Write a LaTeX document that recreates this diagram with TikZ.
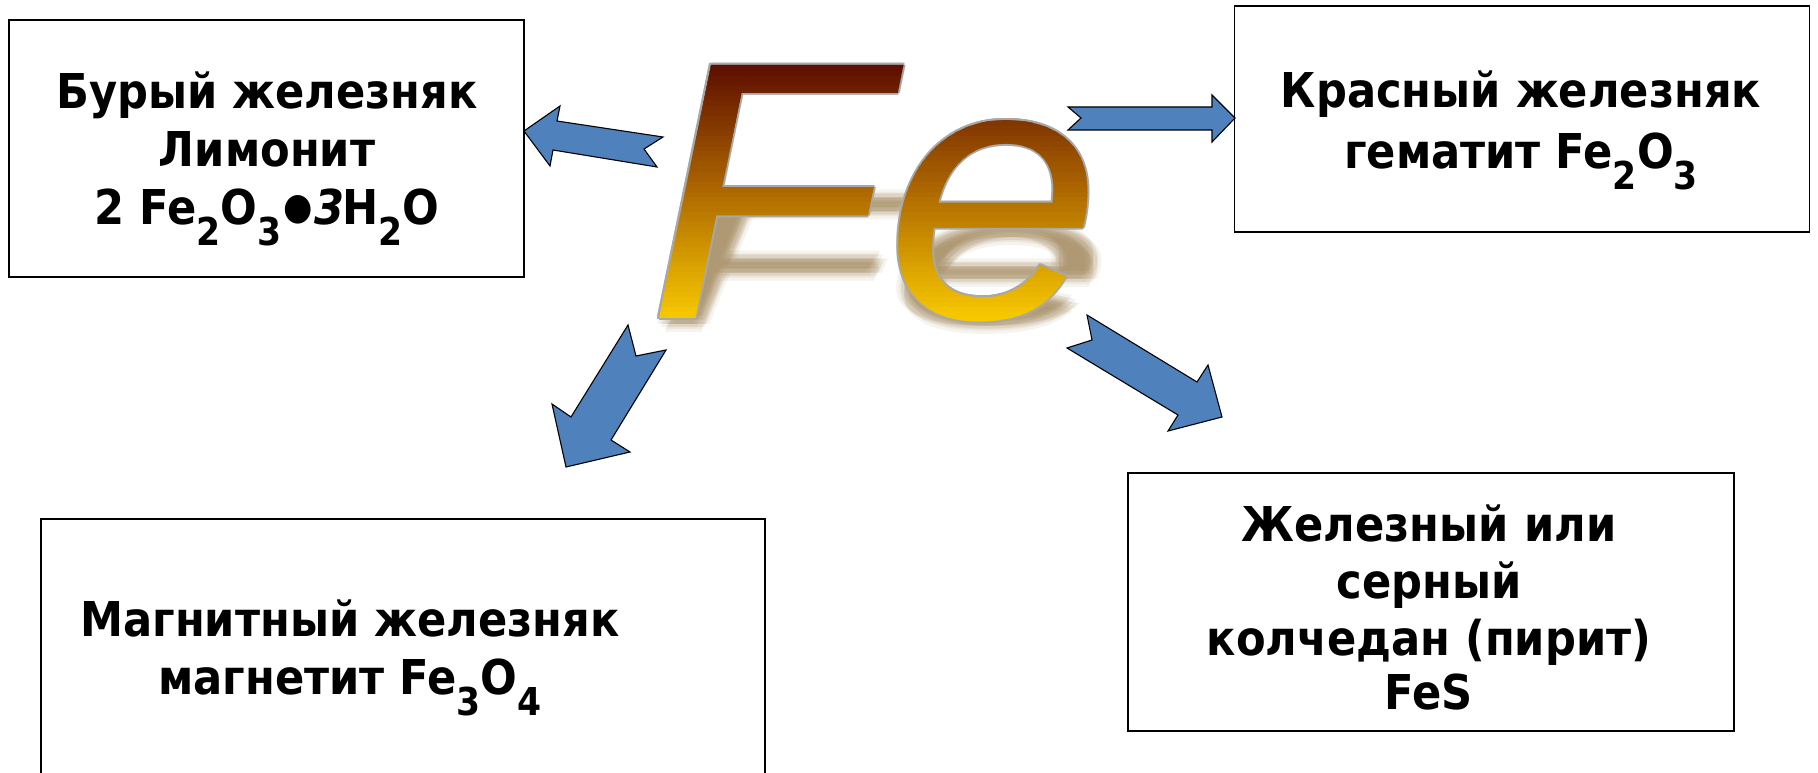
\documentclass[tikz,border=0pt]{standalone}
\usepackage{fontspec}
\usepackage{graphicx}
\setmainfont{DejaVu Sans}[FakeStretch=0.9]
\newfontfamily\fefont{Liberation Sans}
\definecolor{arrowblue}{RGB}{79,129,189}
\definecolor{feTop}{RGB}{88,8,0}
\definecolor{feMid}{RGB}{172,102,0}
\definecolor{feBot}{RGB}{247,200,0}
\definecolor{feShadow}{RGB}{140,105,50}
\definecolor{feEdge}{RGB}{168,168,168}
\newcommand{\fetxt}{\scalebox{1.06}[1]{\fontsize{368}{368}\selectfont\fefont\itshape Fe}}
\newcommand{\sbs}[1]{\raisebox{-0.45em}{\scalebox{0.8}{#1}}}
\tikzset{
  box/.style={draw=black, line width=1.8pt, inner sep=0pt, fill=none},
  lbl/.style={inner sep=0pt, anchor=base, font=\fontsize{#1}{#1}\selectfont\bfseries},
  fenode/.style={inner sep=0pt, anchor=base west},
  blockarrow/.style={fill=arrowblue, draw=black, line width=1.1pt, line join=miter}
}
\begin{document}
\begin{tikzpicture}[x=1pt,y=-1pt]
\path[use as bounding box, fill=white] (0,0) rectangle (1818,773);

% boxes
\node[box, minimum width=515pt, minimum height=257pt] (b1) at (266.5,148.5) {};
\node[box, minimum width=575pt, minimum height=226pt] (b2) at (1522,119) {};
\node[box, minimum width=724pt, minimum height=300pt] (b3) at (403,669) {};
\node[box, minimum width=606pt, minimum height=258pt] (b4) at (1431,602) {};

% texts
\node[lbl=48] (t1a) at (267,109) {Бурый железняк};
\node[lbl=48] (t1b) at (267,167) {Лимонит};
\node[lbl=48] (t1c) at (267,224) {2 Fe\sbs{2}O\sbs{3}\kern2pt\raisebox{0.09em}{\scalebox{0.78}{●}}\kern2pt{\itshape 3}\kern-2ptH\sbs{2}O};

\node[lbl=48] (t2a) at (1521,108) {Красный железняк};
\node[lbl=48] (t2b) at (1521,168) {гематит Fe\sbs{2}O\sbs{3}};

\node[lbl=48] (t3a) at (350,636) {Магнитный железняк};
\node[lbl=48] (t3b) at (350,694) {магнетит Fe\sbs{3}O\sbs{4}};

\node[lbl=48] (t4a) at (1429,541) {Железный или};
\node[lbl=48] (t4b) at (1429,598) {серный};
\node[lbl=48] (t4c) at (1429,655) {колчедан (пирит)};
\node[lbl=48] (t4d) at (1429,709) {FeS};

% Fe : shadow
\coordinate (feorigin) at (647,318);
\foreach \dx/\dy in {0/0,5/0,-5/0,0/5,0/-5,3.5/3.5,-3.5/3.5,3.5/-3.5,-3.5/-3.5,8/0,-8/0,0/8,0/-8} {
  \node[fenode, text=feShadow, opacity=0.08, xshift=6pt+\dx pt, yshift=-6pt+\dy pt] at (feorigin) {\scalebox{1}[0.5]{\fetxt}};
}
% Fe : grey edge
\foreach \dx/\dy in {2/0,-2/0,0/2,0/-2,1.4/1.4,-1.4/1.4,1.4/-1.4,-1.4/-1.4} {
  \node[fenode, text=feEdge, xshift=\dx pt, yshift=\dy pt] at (feorigin) {\fetxt};
}
% Fe : gradient fill
\foreach \i in {0,...,57} {
  \pgfmathsetmacro{\ya}{52+5*\i}
  \pgfmathsetmacro{\tt}{max(0,min(1,(\ya+2.5-60)/258))}
  \pgfmathtruncatemacro{\up}{\tt<0.5 ? 1 : 0}
  \ifnum\up=1
    \pgfmathtruncatemacro{\pp}{100*(1-2*\tt)}
    \colorlet{fecur}{feTop!\pp!feMid}
  \else
    \pgfmathtruncatemacro{\pp}{100*(2-2*\tt)}
    \colorlet{fecur}{feMid!\pp!feBot}
  \fi
  \begin{scope}
    \clip (580,\ya) rectangle (1200,\ya+5.6);
    \node[fenode, text=fecur] (fe\i) at (feorigin) {\fetxt};
  \end{scope}
}

% arrows
\draw[blockarrow] (524,131) -- (560,106) -- (557,121) -- (663,137) -- (644,149) -- (657,167) -- (553,150) -- (550,166) -- cycle;
\draw[blockarrow] (1068,107) -- (1212,107) -- (1212,95) -- (1235,118) -- (1212,142) -- (1212,130) -- (1068,130) -- (1081,118) -- cycle;
\draw[blockarrow] (566,467) -- (552,404) -- (571,417) -- (628,325) -- (636,356) -- (666,350) -- (611,440) -- (630,452) -- cycle;
\draw[blockarrow] (1087,315) -- (1197,382) -- (1208,365) -- (1222,417) -- (1168,431) -- (1178,415) -- (1067,348) -- (1092,340) -- cycle;
\end{tikzpicture}
\end{document}
